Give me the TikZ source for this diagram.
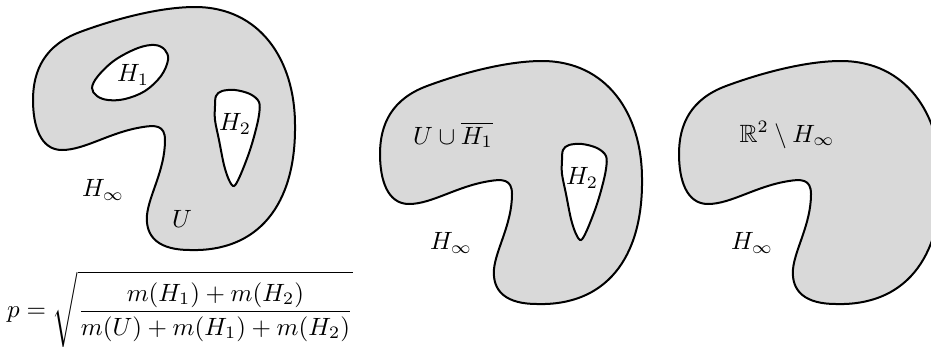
\documentclass[tikz,border=0pt]{standalone}
\usepackage{amsmath,amssymb}

\newcommand{\outerblob}{(33,100) .. controls (33,70) and (45,45) .. (80,32)
  .. controls (115,19) and (160,7) .. (195,7)
  .. controls (260,7) and (295,60) .. (295,125)
  .. controls (296,205) and (258,252) .. (190,250)
  .. controls (160,250) and (145,238) .. (147,215)
  .. controls (149,195) and (165,170) .. (165,140)
  .. controls (165,125) and (155,125) .. (143,127)
  .. controls (110,132) and (85,150) .. (62,150)
  .. controls (40,150) and (33,125) .. (33,100) -- cycle}
\newcommand{\holeone}{plot[smooth cycle, tension=0.6] coordinates {
  (92,88) (97,96) (108,100) (125,99) (145,91) (161,76) (168,60) (165,50)
  (155,45) (138,48) (115,60) (98,76)}}
\newcommand{\holetwo}{plot[smooth cycle, tension=0.55] coordinates {
  (215,106) (216,96) (222,91) (235,90) (250,94) (259,102) (259,115)
  (255,133) (249,153) (240,176) (234,186) (229,180) (224,165) (219,140)
  (215,120)}}

\begin{document}
\begin{tikzpicture}[
    x=0.4pt, y=-0.4pt,
    region/.style={draw=black, fill=black!15, line width=0.8pt},
    hole/.style={draw=black, fill=white, line width=0.8pt},
    tag/.style={inner sep=0pt},
  ]
  \useasboundingbox (0,0) rectangle (931,347);
  \clip (0,0) rectangle (931,347);

  %% ---------------- U with both holes ----------------
  \begin{scope}
    \filldraw[region] \outerblob;
    \filldraw[hole] \holeone;
    \filldraw[hole] \holetwo;
    \node[tag] (hA) at (133,75) {$H_1$};
    \node[tag] (hB) at (235,124) {$H_2$};
    \node[tag] (hinfA) at (103,190) {$H_\infty$};
    \node[tag] (uA) at (182,219) {$U$};
  \end{scope}

  \node[tag] (prob) at (180,309)
    {$\displaystyle p=\sqrt{\frac{m(H_1)+m(H_2)}{m(U)+m(H_1)+m(H_2)}}$};

  %% ---------------- H_1 filled in ----------------
  \begin{scope}[shift={(347,54)}]
    \filldraw[region] \outerblob;
    \filldraw[hole] \holetwo;
    \node[tag] (uhA) at (106,81) {$U\cup\overline{H_1}$};
    \node[tag] (hC) at (235,124) {$H_2$};
    \node[tag] (hinfB) at (104,189) {$H_\infty$};
  \end{scope}

  %% ---------------- complement of H_infinity ----------------
  \begin{scope}[shift={(646,54)}]
    \filldraw[region] \outerblob;
    \node[tag] (rest) at (141,81) {$\mathbb{R}^2\setminus H_\infty$};
    \node[tag] (hinfC) at (106,189) {$H_\infty$};
  \end{scope}

\end{tikzpicture}
\end{document}
